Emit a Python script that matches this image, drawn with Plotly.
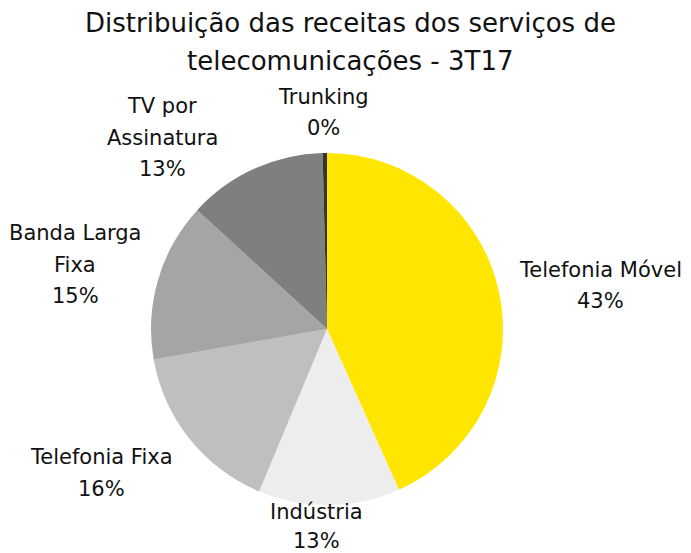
import plotly.graph_objects as go

# Data
categories = ["Telefonia Móvel", "Indústria", "Telefonia Fixa", "Banda Larga Fixa", "TV por Assinatura", "Trunking"]
values = [43.3, 13.0, 15.9, 14.6, 12.8, 0.4]
colors = ["#FFE600", "#EDEDED", "#BFBFBF", "#A5A5A5", "#7F7F7F", "#333333"]
label_lines = [["Telefonia Móvel"], ["Indústria"], ["Telefonia Fixa"], ["Banda Larga", "Fixa"], ["TV por", "Assinatura"], ["Trunking"]]
title_lines = ["Distribuição das receitas dos serviços de", "telecomunicações - 3T17"]

OFF = 8  # page body margin
W, H = 691 - OFF, 553 - OFF
FONT = "DejaVu Sans"

# label anchor (screen pixel center x, first line center y, line spacing)
label_pos = [(600, 270, 31.5), (316, 512, 29), (101, 457, 31.5), (75, 233, 31.5), (162, 106, 31.5), (323, 97, 31.5)]


def px(x):
    return (x - OFF) / W


def py(y):
    return 1 - (y - OFF) / H


fig = go.Figure()
cx, cy, r = 327, 329, 176
fig.add_trace(go.Pie(
    labels=categories, values=values, sort=False, direction="clockwise", rotation=0,
    marker=dict(colors=colors, line=dict(width=0)),
    textinfo="none", hoverinfo="label+percent", showlegend=False,
    domain=dict(x=[px(cx - r), px(cx + r)], y=[py(cy + r), py(cy - r)]),
))

total = sum(values)
annotations = []
for name_lines, v, (lx, ly, lsp) in zip(label_lines, values, label_pos):
    lines = name_lines + [f"{round(100 * v / total):.0f}%"]
    for i, t in enumerate(lines):
        annotations.append(dict(x=px(lx), y=py(ly + i * lsp), xref="paper", yref="paper", text=t,
                                showarrow=False, xanchor="center", yanchor="middle",
                                font=dict(family=FONT, size=21, color="#111111")))
for i, t in enumerate(title_lines):
    annotations.append(dict(x=px(350), y=py(23 + i * 38), xref="paper", yref="paper", text=t,
                            showarrow=False, xanchor="center", yanchor="middle",
                            font=dict(family=FONT, size=26, color="#111111")))

fig.update_layout(width=W, height=H, margin=dict(l=0, r=0, t=0, b=0),
                  paper_bgcolor="white", plot_bgcolor="white", annotations=annotations)
fig.write_html("out.html")
